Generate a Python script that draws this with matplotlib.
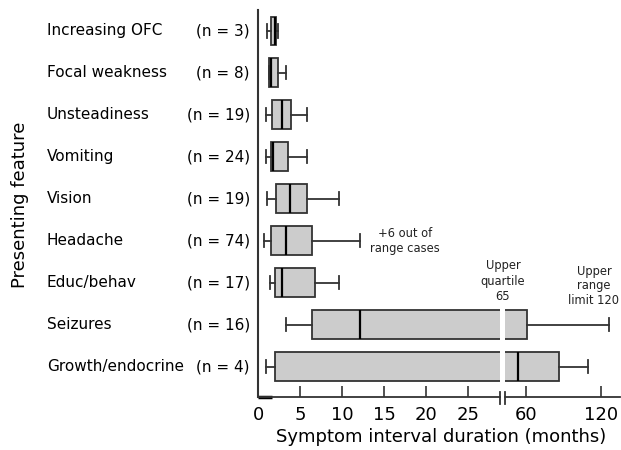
import matplotlib.pyplot as plt
from matplotlib.lines import Line2D
from matplotlib.transforms import blended_transform_factory

# data (months)
features = ["Increasing OFC", "Focal weakness", "Unsteadiness", "Vomiting", "Vision",
            "Headache", "Educ/behav", "Seizures", "Growth/endocrine"]
counts = [3, 8, 19, 24, 19, 74, 17, 16, 4]
whis_lo = [1.1, 1.35, 1.0, 0.9, 1.1, 0.7, 1.4, 3.3, 0.9]
q1 = [1.5, 1.35, 1.7, 1.6, 2.2, 1.6, 2.05, 6.4, 2.0]
median = [2.0, 1.55, 2.85, 1.8, 3.85, 3.3, 2.85, 12.1, 53.3]
q3 = [2.2, 2.4, 3.9, 3.6, 5.85, 6.45, 6.8, 61.0, 86.8]
whis_hi = [2.4, 3.3, 5.85, 5.85, 9.7, 12.1, 9.7, 127.0, 109.5]

fig = plt.figure(figsize=(6.21, 4.5), dpi=100)
plt.rcParams['font.family'] = 'DejaVu Sans'

W, H = 621, 450
bottom = (H - 396.7) / H
height = 386.7 / H
ax1 = fig.add_axes([258 / W, bottom, (500 - 258) / W, height])
ax2 = fig.add_axes([505 / W, bottom, (620 - 505) / W, height])

n = len(features)
pos = list(range(n, 0, -1))  # top row first
stats = []
for i in range(n):
    stats.append(dict(whislo=whis_lo[i], q1=q1[i], med=median[i], q3=q3[i],
                      whishi=whis_hi[i], fliers=[]))

edge = "#333333"
for ax in (ax1, ax2):
    ax.bxp(stats, positions=pos, widths=0.69, orientation="horizontal",
           patch_artist=True, capwidths=0.31, manage_ticks=False,
           boxprops=dict(facecolor="#cccccc", edgecolor=edge, linewidth=1.3),
           whiskerprops=dict(color=edge, linewidth=1.3),
           capprops=dict(color=edge, linewidth=1.3),
           medianprops=dict(color="black", linewidth=1.6))
    ax.set_ylim(0.29, n + 0.5)
    ax.set_yticks([])
    ax.spines["top"].set_visible(False)
    ax.spines["right"].set_visible(False)
    ax.spines["bottom"].set_color(edge)
    ax.spines["bottom"].set_linewidth(1.3)
    ax.tick_params(axis="x", direction="in", length=8, width=1.2, color=edge,
                   labelsize=13, pad=7)

ax1.set_xlim(0, 28.81)
ax1.set_xticks([0, 5, 10, 15, 20, 25])
ax1.spines["left"].set_color(edge)
ax1.spines["left"].set_linewidth(1.5)
# the heavier corner at the origin
ax1.plot([0, 1.7], [0.29, 0.29], color="black", linewidth=2.5, clip_on=False,
         solid_capstyle="butt")

ax2.set_xlim(43.1, 135.5)
ax2.set_xticks([60, 120])
ax2.spines["left"].set_visible(False)

# axis break marks
for xb in (500, 505):
    fig.add_artist(Line2D([xb / W, xb / W], [1 - 391.7 / H, 1 - 404 / H],
                          color=edge, linewidth=1.3))

# row labels
tr = blended_transform_factory(fig.transFigure, ax1.transData)
for i in range(n):
    ax1.text(47 / W, pos[i], features[i], transform=tr, ha="left", va="center",
             fontsize=11)
    ax1.text(250 / W, pos[i], f"(n = {counts[i]})", transform=tr, ha="right",
             va="center", fontsize=11)

ax1.text(17.5, pos[5], "+6 out of\nrange cases", ha="center", va="center",
         fontsize=8.3, color="#222222")
fig.text(503 / W, 1 - 281 / H, "Upper\nquartile\n65", ha="center", va="center",
         fontsize=8.3, color="#222222")
fig.text(594 / W, 1 - 286 / H, "Upper\nrange\nlimit 120", ha="center", va="center",
         fontsize=8.3, color="#222222")

fig.text(20 / W, 1 - 205 / H, "Presenting feature", rotation=90, ha="center",
         va="center", fontsize=13)
fig.text(441 / W, 1 - 437 / H, "Symptom interval duration (months)", ha="center",
         va="center", fontsize=13)

fig.savefig("out.png", dpi=100)
